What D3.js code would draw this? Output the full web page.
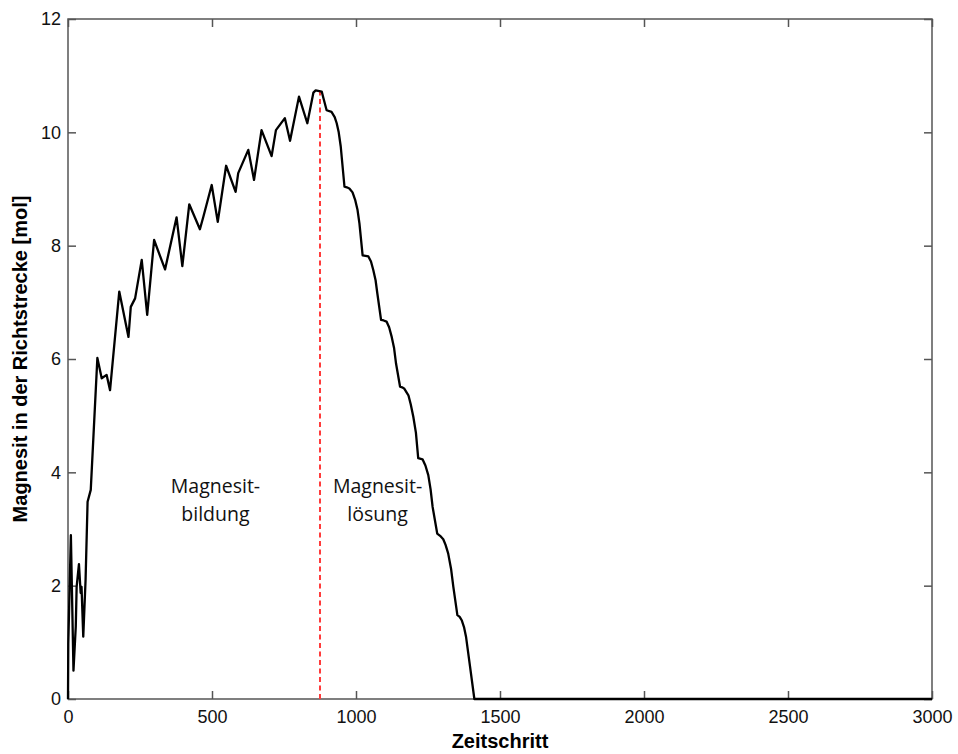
<!DOCTYPE html>
<html>
<head>
<meta charset="utf-8">
<script src="https://cdn.jsdelivr.net/npm/d3@7"></script>
<style>
  body { margin: 0; background: #fff; }
  text { font-family: Arial, "Liberation Sans", sans-serif; }
</style>
</head>
<body>
<div id="chart"></div>
<script>
// Values
var timeSteps = [0, 1, 10, 15, 19, 27, 30, 38, 44, 47, 53, 61, 68, 79, 102, 117, 134, 146, 178, 210,
  218, 233, 256, 275, 299, 337, 377, 397, 421, 458, 470, 499, 520, 549, 582, 591, 626, 646, 672, 707,
  722, 753, 771, 802, 831, 852, 860, 881, 887, 898, 915, 926, 933, 940, 947, 960, 968, 977, 988, 997, 1005, 1012, 1023,
  1033, 1043, 1052, 1060, 1068, 1074, 1087, 1096, 1106, 1115, 1124, 1132, 1139, 1153, 1160, 1167, 1182, 1190, 1199, 1208, 1216,
  1231, 1241, 1251, 1259, 1266, 1282, 1292, 1303, 1311, 1320, 1330, 1338, 1352, 1360, 1367, 1375, 1382, 1396, 1411,
  3000];
var magnesit = [0, 0.98, 2.89, 1.57, 0.5, 1.28, 1.98, 2.38, 1.87, 1.98, 1.1, 2.1, 3.48, 3.69, 6.02, 5.66, 5.72, 5.45, 7.19, 6.39,
  6.92, 7.07, 7.75, 6.78, 8.1, 7.58, 8.5, 7.64, 8.73, 8.29, 8.51, 9.07, 8.42, 9.41, 8.95, 9.28, 9.69, 9.16, 10.04, 9.58,
  10.04, 10.25, 9.85, 10.63, 10.16, 10.7, 10.74, 10.72, 10.6, 10.39, 10.36, 10.27, 10.16, 10.0, 9.75, 9.04, 9.03, 9.01, 8.94, 8.81, 8.64, 8.39, 7.83,
  7.82, 7.81, 7.72, 7.57, 7.39, 7.16, 6.69, 6.68, 6.66, 6.56, 6.39, 6.2, 5.92, 5.51, 5.5, 5.48, 5.36, 5.2, 4.98, 4.7, 4.25,
  4.23, 4.12, 3.95, 3.7, 3.39, 2.92, 2.88, 2.82, 2.72, 2.57, 2.3, 1.98, 1.48, 1.45, 1.39, 1.27, 1.10, 0.57, 0,
  0];
var xTicks = [0, 500, 1000, 1500, 2000, 2500, 3000];
var yTicks = [0, 2, 4, 6, 8, 10, 12];
var switchStep = 875;      // end of Magnesitbildung
var switchTop = 10.72;
var phaseLabels = [
  {x: 512, lines: ["Magnesit-", "bildung"]},
  {x: 1075, lines: ["Magnesit-", "lösung"]}
];

var margin = {top: 19, right: 26, bottom: 55, left: 68},
    width = 958 - margin.left - margin.right,
    height = 754 - margin.top - margin.bottom;

var svg = d3.select("#chart")
  .append("svg")
    .attr("width", 958)
    .attr("height", 754)
  .append("g")
    .attr("transform", `translate(${margin.left},${margin.top})`);

var x = d3.scaleLinear().domain([0, 3000]).range([0, width]);
var y = d3.scaleLinear().domain([0, 12]).range([height, 0]);

var axisColor = "#555";

// Axes with inward ticks on all four sides
var xAxis = svg.append("g")
  .attr("transform", `translate(0,${height})`)
  .call(d3.axisBottom(x).tickValues(xTicks).tickFormat(d3.format("d"))
    .tickSizeInner(-8).tickSizeOuter(0).tickPadding(11));
var yAxis = svg.append("g")
  .call(d3.axisLeft(y).tickValues(yTicks).tickFormat(d3.format("d"))
    .tickSizeInner(-8).tickSizeOuter(0).tickPadding(7));
var xTop = svg.append("g")
  .call(d3.axisTop(x).tickValues(xTicks).tickSizeInner(-8).tickSizeOuter(0).tickFormat(""));
var yRight = svg.append("g")
  .attr("transform", `translate(${width},0)`)
  .call(d3.axisRight(y).tickValues(yTicks).tickSizeInner(-8).tickSizeOuter(0).tickFormat(""));

[xAxis, yAxis, xTop, yRight].forEach(function(a) {
  a.select(".domain").remove();
  a.selectAll("line").attr("stroke", axisColor).attr("stroke-width", 1.5);
  a.selectAll("text").attr("fill", "#111").style("font-size", "18px");
});

// Frame
svg.append("rect")
  .attr("width", width)
  .attr("height", height)
  .attr("fill", "none")
  .attr("stroke", axisColor)
  .attr("stroke-width", 1.5);

// Phase boundary
svg.append("line")
  .attr("x1", x(switchStep)).attr("x2", x(switchStep))
  .attr("y1", y(0)).attr("y2", y(switchTop))
  .attr("stroke", "#ff3b3b")
  .attr("stroke-width", 2)
  .attr("stroke-dasharray", "5,3.5");

// Curve
var data = timeSteps.map((t, i) => ({t: t, v: magnesit[i]}));
svg.append("path")
  .datum(data)
  .attr("fill", "none")
  .attr("stroke", "#000")
  .attr("stroke-width", 2.3)
  .attr("stroke-linejoin", "round")
  .attr("d", d3.line()
    .x(d => x(d.t))
    .y(d => y(d.v)));

// Phase labels
phaseLabels.forEach(function(p) {
  var t = svg.append("text")
    .attr("text-anchor", "middle")
    .style("font-family", "'Open Sans', 'Noto Sans', sans-serif")
    .style("font-size", "19.5px")
    .attr("fill", "#111");
  p.lines.forEach(function(l, i) {
    t.append("tspan")
      .attr("x", x(p.x))
      .attr("y", y(3.64) + i * 28)
      .text(l);
  });
});

// Axis titles
svg.append("text")
  .attr("x", width / 2)
  .attr("y", height + 49)
  .attr("text-anchor", "middle")
  .style("font-size", "20px")
  .style("font-weight", "bold")
  .text("Zeitschritt");

svg.append("text")
  .attr("transform", `translate(${-margin.left + 27},${height / 2}) rotate(-90)`)
  .attr("text-anchor", "middle")
  .style("font-size", "20px")
  .style("font-weight", "bold")
  .text("Magnesit in der Richtstrecke [mol]");
</script>
</body>
</html>
